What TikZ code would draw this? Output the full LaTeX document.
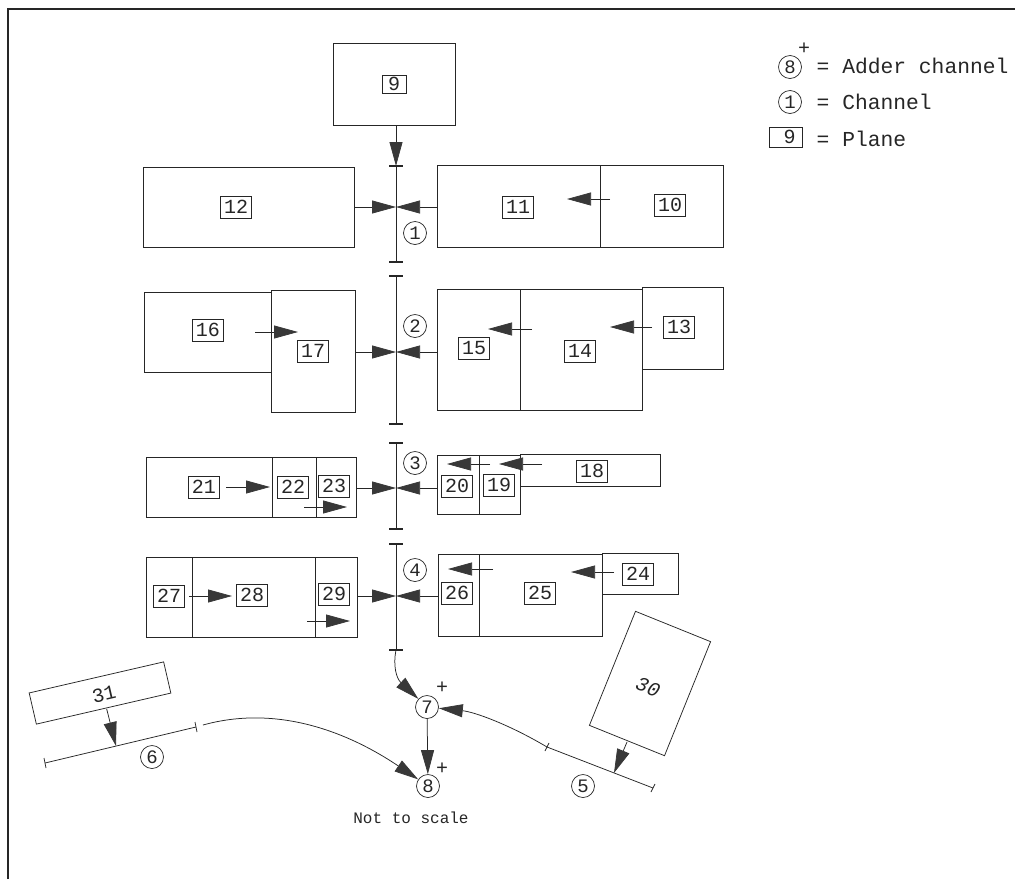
\documentclass[tikz,border=0pt]{standalone}
\usepackage{fontspec}
\setmainfont{Liberation Mono}
\usetikzlibrary{arrows.meta,calc}
\definecolor{ink}{gray}{0.15}
\definecolor{headgray}{gray}{0.22}
\tikzset{
  x=1pt,y=-1pt,
  ink line/.style={draw=ink,line width=0.75pt},
  blk/.style={ink line,minimum width=0pt,minimum height=0pt,inner sep=0pt,anchor=center},
  planebox/.style={draw=ink,line width=0.6pt,inner sep=0pt,minimum width=31pt,minimum height=22pt,font=\fontsize{20}{20}\selectfont,text=ink},
  chan/.style={circle,draw=ink,line width=0.7pt,inner sep=0pt,minimum size=23pt,font=\fontsize{19}{19}\selectfont,text=ink},
  arr/.style={ink line,-{Triangle[length=24pt,width=13pt,color=headgray]}},
  lbl/.style={font=\fontsize{20}{20}\selectfont,text=ink,inner sep=0pt},
  key/.style={font=\fontsize{21.3}{21.3}\selectfont,text=ink,inner sep=0pt,anchor=base west},
  bar/.style={draw=ink,line width=2.5pt},
}
\newcommand{\tbar}[2]{\coordinate (#1) at (#2); \draw[bar] ($(#1)+(-7,0)$) -- ($(#1)+(7,0)$);}
\begin{document}
\begin{tikzpicture}
\useasboundingbox (0,0) rectangle (1015,879);
\fill[white] (0,0) rectangle (1015,879);
\coordinate (fa) at (8,879);\coordinate (fb) at (8,9);\coordinate (fc) at (1015,9);
\draw[draw=ink,line width=1.2pt] (fa) -- (fb) -- (fc);
% boxes
\node[blk,minimum width=122pt,minimum height=82pt] (b9) at (394,84) {};
\node[planebox,minimum width=24pt,minimum height=18pt] (l9) at (394,84) {9};
\node[blk,minimum width=211pt,minimum height=80pt] (b12) at (248.5,207) {};
\node[planebox] (l12) at (236,207) {12};
\node[blk,minimum width=163pt,minimum height=82pt] (b11) at (518.5,206) {};
\node[blk,minimum width=123pt,minimum height=82pt] (b10) at (661.5,206) {};
\node[planebox] (l11) at (518,207) {11};
\node[planebox] (l10) at (670,205) {10};
\node[blk,minimum width=127pt,minimum height=80pt] (b16) at (207.5,332) {};
\node[blk,minimum width=84pt,minimum height=122pt] (b17) at (313,351) {};
\node[planebox] (l16) at (208,330) {16};
\node[planebox] (l17) at (313,351) {17};
\node[blk,minimum width=83pt,minimum height=121pt] (b15) at (478.5,349.5) {};
\node[blk,minimum width=122pt,minimum height=121pt] (b14) at (581,349.5) {};
\node[blk,minimum width=81pt,minimum height=82pt] (b13) at (682.5,328) {};
\node[planebox] (l15) at (474,348) {15};
\node[planebox] (l14) at (580,351) {14};
\node[planebox] (l13) at (679,327) {13};
\node[blk,minimum width=126pt,minimum height=60pt] (b21) at (209,487) {};
\node[blk,minimum width=44pt,minimum height=60pt] (b22) at (294,487) {};
\node[blk,minimum width=40pt,minimum height=60pt] (b23) at (336,487) {};
\node[planebox] (l21) at (204,487) {21};
\node[planebox] (l22) at (293,487) {22};
\node[planebox] (l23) at (334,486) {23};
\node[blk,minimum width=42pt,minimum height=59pt] (b20) at (458,484.5) {};
\node[blk,minimum width=41pt,minimum height=59pt] (b19) at (499.5,484.5) {};
\node[blk,minimum width=140pt,minimum height=32pt] (b18) at (590,470) {};
\node[planebox] (l20) at (457,486) {20};
\node[planebox] (l19) at (499,485) {19};
\node[planebox] (l18) at (592,471) {18};
\node[blk,minimum width=46pt,minimum height=80pt] (b27) at (169,597) {};
\node[blk,minimum width=123pt,minimum height=80pt] (b28) at (253.5,597) {};
\node[blk,minimum width=42pt,minimum height=80pt] (b29) at (336,597) {};
\node[planebox] (l27) at (169,596) {27};
\node[planebox] (l28) at (252,595) {28};
\node[planebox] (l29) at (334,594) {29};
\node[blk,minimum width=41.5pt,minimum height=82pt] (b26) at (458.75,595) {};
\node[blk,minimum width=122.5pt,minimum height=82pt] (b25) at (540.75,595) {};
\node[blk,minimum width=76pt,minimum height=41pt] (b24) at (640,573.5) {};
\node[planebox] (l26) at (457,593) {26};
\node[planebox] (l25) at (540,593) {25};
\node[planebox] (l24) at (638,574) {24};
% spine
\tbar{t1}{396,166}\tbar{t2}{396,262}\tbar{t3}{396,276}\tbar{t4}{396,424}
\tbar{t5}{396,443}\tbar{t6}{396,529}\tbar{t7}{396,544}\tbar{t8}{396,650}
\draw[ink line] (t1)--(t2); \draw[ink line] (t3)--(t4); \draw[ink line] (t5)--(t6); \draw[ink line] (t7)--(t8);
\coordinate (j1) at (396,207);\coordinate (j2) at (396,352);\coordinate (j3) at (396,488);\coordinate (j4) at (396,596);
\draw[arr] (t1 |- b9.south) -- (t1);
\draw[arr] (b12.east |- j1) -- (j1);
\draw[arr] (b11.west |- j1) -- (j1);
\draw[arr] (b17.east |- j2) -- (j2);
\draw[arr] (b15.west |- j2) -- (j2);
\draw[arr] (b23.east |- j3) -- (j3);
\draw[arr] (b20.west |- j3) -- (j3);
\draw[arr] (b29.east |- j4) -- (j4);
\draw[arr] (b26.west |- j4) -- (j4);
\node[chan] (c1) at (415,233) {1};
\node[chan] (c2) at (415,326) {2};
\node[chan] (c3) at (415,463) {3};
\node[chan] (c4) at (415,570) {4};
% inner arrows
\coordinate (p1a) at (610,199);\coordinate (p1b) at (567,199);\draw[arr] (p1a)--(p1b);
\coordinate (p2a) at (255,332);\coordinate (p2b) at (298,332);\draw[arr] (p2a)--(p2b);
\coordinate (p3a) at (532,329);\coordinate (p3b) at (488,329);\draw[arr] (p3a)--(p3b);
\coordinate (p4a) at (652,327);\coordinate (p4b) at (610,327);\draw[arr] (p4a)--(p4b);
\coordinate (p5a) at (226,487);\coordinate (p5b) at (270,487);\draw[arr] (p5a)--(p5b);
\coordinate (p6a) at (304,507);\coordinate (p6b) at (347,507);\draw[arr] (p6a)--(p6b);
\coordinate (p7a) at (490,464);\coordinate (p7b) at (447,464);\draw[arr] (p7a)--(p7b);
\coordinate (p8a) at (542,464);\coordinate (p8b) at (499,464);\draw[arr] (p8a)--(p8b);
\coordinate (p9a) at (189,596);\coordinate (p9b) at (232,596);\draw[arr] (p9a)--(p9b);
\coordinate (p10a) at (307,621);\coordinate (p10b) at (350,621);\draw[arr] (p10a)--(p10b);
\coordinate (p11a) at (493,569);\coordinate (p11b) at (448,569);\draw[arr] (p11a)--(p11b);
\coordinate (p12a) at (614,572);\coordinate (p12b) at (571,572);\draw[arr] (p12a)--(p12b);
% bottom
\node[chan] (c7) at (427,707) {7};
\node[chan] (c8) at (428,786) {8};
\node[lbl] (pl7) at (442,688) {+};
\node[lbl] (pl8) at (442,769) {+};
\draw[arr] (c7) -- (c8);
\draw[arr] (t8) .. controls (393,665) and (396,678) .. (c7);
% line 5
\coordinate (e5a) at (547,747);\coordinate (e5b) at (653,788);\coordinate (e5c) at (614,773);
\draw[ink line] (e5a)--(e5b);
\draw[ink line] ($(e5a)+(-2,4)$)--($(e5a)+(2,-4)$);
\draw[ink line] ($(e5b)+(-2,4)$)--($(e5b)+(2,-4)$);
\draw[arr] (e5a) .. controls (510,725) and (475,712) .. (c7);
\node[blk,rotate=-22,minimum width=81pt,minimum height=123pt] (b30) at (650,683.5) {};
\node[lbl,rotate=-22,font=\fontsize{20}{20}\selectfont\itshape] (l30) at (648,687) {30};
\coordinate (b30s) at (627,742);
\draw[arr] (b30s)--(e5c);
\node[chan] (c5) at (583,786) {5};
% line 6
\coordinate (e6a) at (45,763);\coordinate (e6b) at (196,727);\coordinate (e6c) at (116,746);\coordinate (e6d) at (203,725);
\draw[ink line] (e6a)--(e6b);
\draw[ink line] ($(e6a)+(-1,-5)$)--($(e6a)+(1,5)$);
\draw[ink line] ($(e6b)+(-1,-5)$)--($(e6b)+(1,5)$);
\node[blk,rotate=13,minimum width=138pt,minimum height=32pt] (b31) at (100,693) {};
\node[lbl,rotate=13] (l31) at (104,694) {31};
\draw[arr] ($(b31.south)+(3,0)$) -- (e6c);
\node[chan,minimum size=23pt] (c6) at (152,757) {6};
\draw[arr] (e6d) .. controls (275,705) and (345,730) .. (c8);
\node[lbl,font=\fontsize{16}{16}\selectfont] (nts) at (411,818) {Not to scale};
% legend
\node[chan] (k8) at (790,67) {8};
\node[lbl] (kp) at (804,49) {+};
\coordinate (kx) at (816.5,73);
\node[key] (kt8) at (kx) {= Adder channel};
\node[chan] (k1) at (790,102) {1};
\node[key] (kt1) at (816.5,109) {= Channel};
\node[planebox,minimum width=33pt,minimum height=20pt,align=right] (k9) at (785.5,137) {\hspace*{8pt}9};
\node[key] (kt9) at (816.5,146) {= Plane};
\end{tikzpicture}
\end{document}
